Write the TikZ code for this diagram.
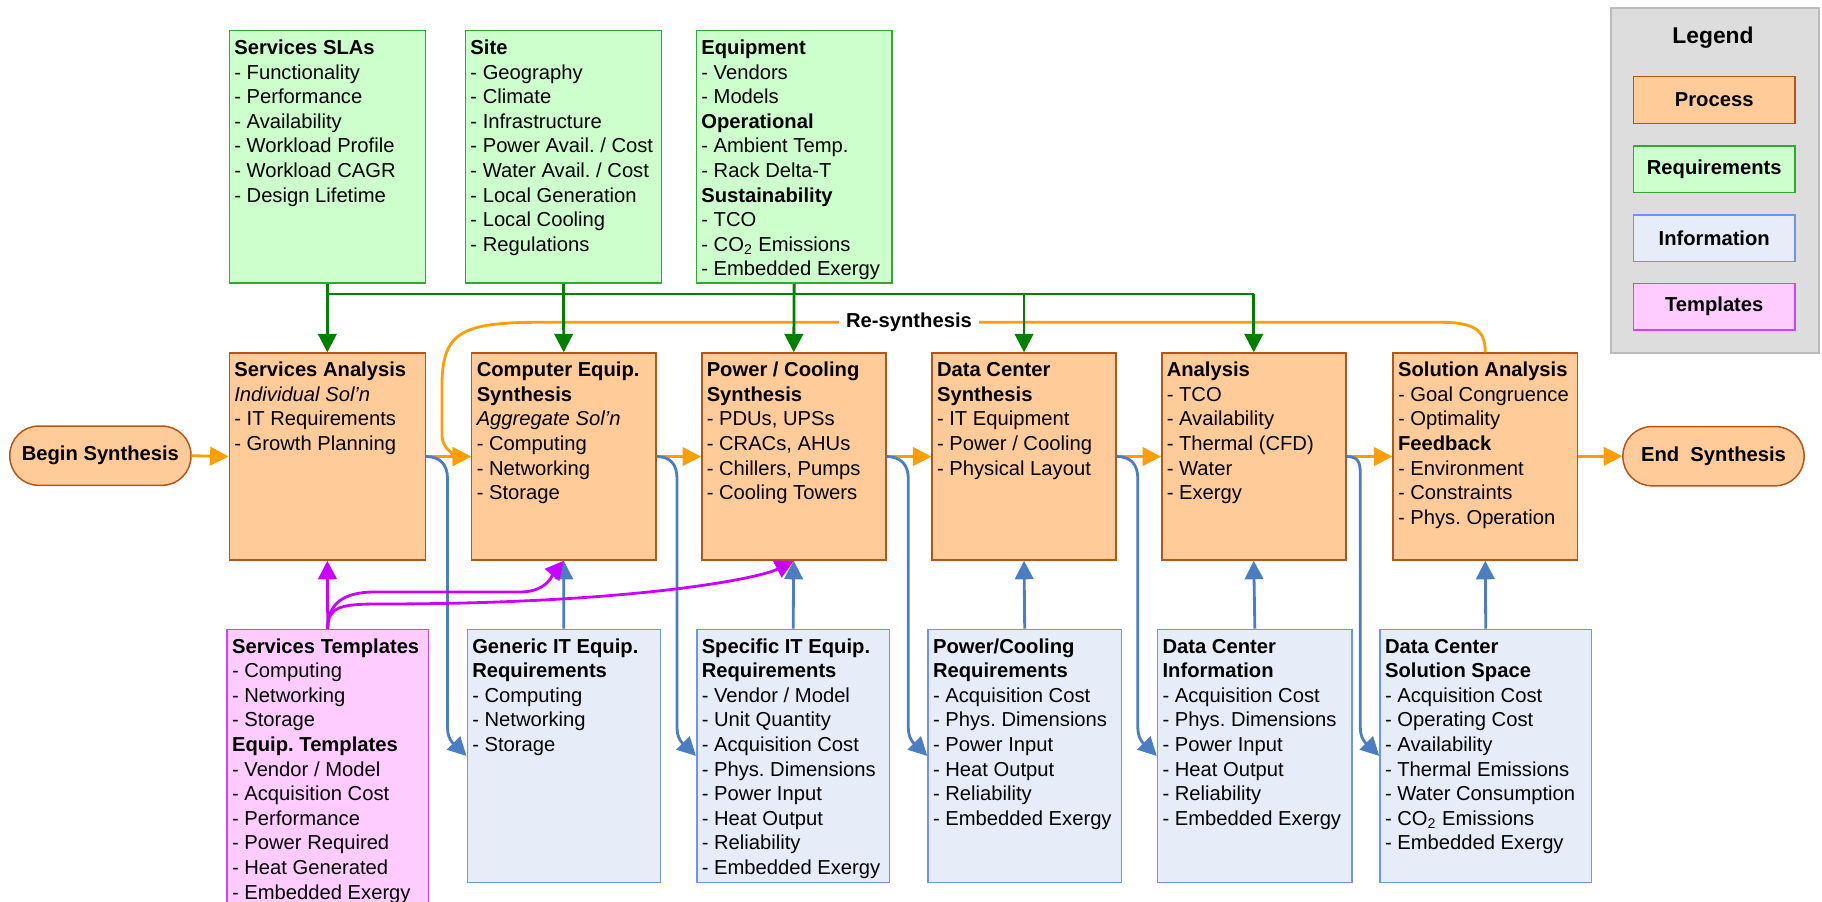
\documentclass[tikz,border=0pt]{standalone}
\usepackage{fontspec}
\setmainfont{Liberation Sans}
\usetikzlibrary{arrows.meta,calc}
\frenchspacing

\definecolor{procfill}{HTML}{FFCC99}
\definecolor{procline}{HTML}{B4561C}
\definecolor{reqfill}{HTML}{CCFFCC}
\definecolor{reqline}{HTML}{33A633}
\definecolor{infofill}{HTML}{E6EDF8}
\definecolor{infoline}{HTML}{6F93EE}
\definecolor{tmplfill}{HTML}{FFCCFF}
\definecolor{tmplline}{HTML}{CC44FF}
\definecolor{flowcol}{HTML}{FF9E00}
\definecolor{reqcol}{HTML}{008000}
\definecolor{infocol}{HTML}{4A7DC4}
\definecolor{tmplcol}{HTML}{CC00FF}
\definecolor{legfill}{HTML}{DDDDDD}
\definecolor{legline}{HTML}{BBBBBB}

\newdimen\pxu \pxu=0.02cm
\newcommand{\boxlines}[3]{\parbox[c][#2\pxu][t]{#1\pxu}{\raggedright\strut #3}}

\tikzset{
  txtbox/.style={anchor=north west, inner xsep=0.1cm, inner ysep=0.13cm, line width=0.85pt, font=\fontsize{11.5}{14}\selectfont},
  procbox/.style={txtbox, draw=procline, fill=procfill},
  reqbox/.style={txtbox, draw=reqline, fill=reqfill},
  infobox/.style={txtbox, draw=infoline, fill=infofill},
  tmplbox/.style={txtbox, draw=tmplline, fill=tmplfill},
  terminal/.style={draw=procline, fill=procfill, line width=0.85pt, rounded corners=0.58cm, minimum width=3.624cm, minimum height=1.186cm, font=\bfseries\fontsize{11.5}{14}\selectfont},
  legitem/.style={line width=0.85pt, minimum width=3.234cm, minimum height=0.934cm, font=\bfseries\fontsize{11.5}{14}\selectfont},
  tip/.style={-{Triangle[length=0.37cm,width=0.37cm]}},
  flow/.style={draw=flowcol, line width=1.6pt, tip},
  reqline/.style={draw=reqcol, line width=1.6pt},
  reqlink/.style={reqline, tip},
  infolink/.style={draw=infocol, line width=1.6pt, tip},
  tmpllink/.style={draw=tmplcol, line width=1.6pt, tip}
}

\begin{document}
\begin{tikzpicture}[x=0.02cm, y=-0.02cm]
			%%%%% START %%%%%
			\useasboundingbox (0,0) rectangle (1822,902);
			
			% requirements
			\node[reqbox] (sla) at (228.6,30) {\boxlines{186}{239.5}{\textbf{Services SLAs}\\- Functionality\\- Performance\\- Availability\\- Workload Profile\\- Workload CAGR\\- Design Lifetime}};
			\node[reqbox] (site) at (464.7,30) {\boxlines{186}{239.5}{\textbf{Site}\\- Geography\\- Climate\\- Infrastructure\\- Power Avail. / Cost\\- Water Avail. / Cost\\- Local Generation\\- Local Cooling\\- Regulations}};
			\node[reqbox] (equip) at (695.6,30) {\boxlines{185.6}{239.5}{\textbf{Equipment}\\- Vendors\\- Models\\\textbf{Operational}\\- Ambient Temp.\\- Rack Delta-T\\\textbf{Sustainability}\\- TCO\\- CO\textsubscript{2} Emissions\\- Embedded Exergy}};
			
			% process
			\node[terminal] (begin) at (100.4,455.7) {Begin Synthesis};
			\node[procbox] (sa) at (228.6,352.3) {\boxlines{186}{194}{\textbf{Services Analysis}\\\textit{Individual Sol’n}\\- IT Requirements\\- Growth Planning}};
			\node[procbox] (ces) at (471,352.3) {\boxlines{174}{194}{\textbf{Computer Equip.}\\\textbf{Synthesis}\\\textit{Aggregate Sol’n}\\- Computing\\- Networking\\- Storage}};
			\node[procbox] (pcs) at (701,352.3) {\boxlines{174}{194}{\textbf{Power / Cooling}\\\textbf{Synthesis}\\- PDUs, UPSs\\- CRACs, AHUs\\- Chillers, Pumps\\- Cooling Towers}};
			\node[procbox] (dcs) at (931.3,352.3) {\boxlines{174}{194}{\textbf{Data Center}\\\textbf{Synthesis}\\- IT Equipment\\- Power / Cooling\\- Physical Layout}};
			\node[procbox] (an) at (1161,352.3) {\boxlines{174}{194}{\textbf{Analysis}\\- TCO\\- Availability\\- Thermal (CFD)\\- Water\\- Exergy}};
			\node[procbox] (sol) at (1392.3,352.3) {\boxlines{174.4}{194}{\textbf{Solution Analysis}\\- Goal Congruence\\- Optimality\\\textbf{Feedback}\\- Environment\\- Constraints\\- Phys. Operation}};
			\node[terminal] (end) at (1713.5,456.2) {End\ \ Synthesis};
			
			% information
			\node[tmplbox] (tmpl) at (226.3,628.7) {\boxlines{191.4}{287}{\textbf{Services Templates}\\- Computing\\- Networking\\- Storage\\\textbf{Equip. Templates}\\- Vendor / Model\\- Acquisition Cost\\- Performance\\- Power Required\\- Heat Generated\\- Embedded Exergy}};
			\node[infobox] (gen) at (466.5,628.7) {\boxlines{183}{240}{\textbf{Generic IT Equip.}\\\textbf{Requirements}\\- Computing\\- Networking\\- Storage}};
			\node[infobox] (spec) at (696,628.7) {\boxlines{182.8}{240}{\textbf{Specific IT Equip.}\\\textbf{Requirements}\\- Vendor / Model\\- Unit Quantity\\- Acquisition Cost\\- Phys. Dimensions\\- Power Input\\- Heat Output\\- Reliability\\- Embedded Exergy}};
			\node[infobox] (pcr) at (927.3,628.7) {\boxlines{183.3}{240}{\textbf{Power/Cooling}\\\textbf{Requirements}\\- Acquisition Cost\\- Phys. Dimensions\\- Power Input\\- Heat Output\\- Reliability\\- Embedded Exergy}};
			\node[infobox] (dci) at (1156.8,628.7) {\boxlines{184.6}{240}{\textbf{Data Center}\\\textbf{Information}\\- Acquisition Cost\\- Phys. Dimensions\\- Power Input\\- Heat Output\\- Reliability\\- Embedded Exergy}};
			\node[infobox] (dcss) at (1379.3,628.7) {\boxlines{201.4}{240}{\textbf{Data Center}\\\textbf{Solution Space}\\- Acquisition Cost\\- Operating Cost\\- Availability\\- Thermal Emissions\\- Water Consumption\\- CO\textsubscript{2} Emissions\\- Embedded Exergy}};
			
			% legend
			\node[draw=legline, fill=legfill, line width=1.2pt, anchor=north west, minimum width=4.166cm, minimum height=6.912cm] (legend) at (1610,6.7) {};
			\node[font=\bfseries\fontsize{13}{15}\selectfont, anchor=base] (legtitle) at (1713,43.3) {Legend};
			\node[legitem, draw=procline, fill=procfill] (legproc) at (1714.2,100) {Process};
			\node[legitem, draw=reqline, fill=reqfill] (legreq) at (1714.2,169.3) {Requirements};
			\node[legitem, draw=infoline, fill=infofill] (leginfo) at (1714.2,238.3) {Information};
			\node[legitem, draw=tmplline, fill=tmplfill] (legtmpl) at (1714.2,306.7) {Templates};
			
			% process flow
			\draw[flow] (begin.east) -- (sa.west);
			\draw[flow] (sa.east) -- (ces.west);
			\draw[flow] (ces.east) -- (pcs.west);
			\draw[flow] (pcs.east) -- (dcs.west);
			\draw[flow] (dcs.east) -- (an.west);
			\draw[flow] (an.east) -- (sol.west);
			\draw[flow] (sol.east) -- (end.west);
			
			\draw[flow] (sol.north) .. controls +(0,-22) and +(35,0) .. (1440,322.3) -- (540,322.3) .. controls (462,322.3) and (442,332) .. (442,385) -- (442,436) .. controls +(0,14) and +(-12,0) .. (ces.west);
			\node[fill=white, inner xsep=0.14cm, inner ysep=0.04cm, font=\bfseries\fontsize{11.5}{14}\selectfont] (resyn) at (909,322.3) {Re-synthesis};
			
			% requirements feed
			\coordinate (bus) at (0,294);
			\draw[reqline] (sla.south |- bus) -- (an.north |- bus);
			\draw[reqlink] (sla.south) -- (sa.north);
			\draw[reqlink] (site.south) -- (ces.north);
			\draw[reqlink] (equip.south) -- (pcs.north);
			\draw[reqlink] (dcs.north |- bus) -- (dcs.north);
			\draw[reqlink] (an.north |- bus) -- (an.north);
			
			% information feed
			\draw[infolink] (gen.north) -- (ces.south);
			\draw[infolink] (spec.north) -- (pcs.south);
			\draw[infolink] (pcr.north) -- (dcs.south);
			\draw[infolink] (dci.north) -- (an.south);
			\draw[infolink] (dcss.north) -- (sol.south);
			
			\draw[infolink] (sa.east) .. controls +(14,0) and +(0,-14) .. ($(sa.east -| gen.west)+(-19,22)$) -- ($(gen.west)+(-19,-28)$) .. controls +(0,14) and +(-9,-9) .. (gen.west);
			\draw[infolink] (ces.east) .. controls +(14,0) and +(0,-14) .. ($(ces.east -| spec.west)+(-19,22)$) -- ($(spec.west)+(-19,-28)$) .. controls +(0,14) and +(-9,-9) .. (spec.west);
			\draw[infolink] (pcs.east) .. controls +(14,0) and +(0,-14) .. ($(pcs.east -| pcr.west)+(-19,22)$) -- ($(pcr.west)+(-19,-28)$) .. controls +(0,14) and +(-9,-9) .. (pcr.west);
			\draw[infolink] (dcs.east) .. controls +(14,0) and +(0,-14) .. ($(dcs.east -| dci.west)+(-19,22)$) -- ($(dci.west)+(-19,-28)$) .. controls +(0,14) and +(-9,-9) .. (dci.west);
			\draw[infolink] (an.east) .. controls +(14,0) and +(0,-14) .. ($(an.east -| dcss.west)+(-19,22)$) -- ($(dcss.west)+(-19,-28)$) .. controls +(0,14) and +(-9,-9) .. (dcss.west);
			
			% templates feed
			\draw[tmpllink] (tmpl.north) -- (sa.south);
			\draw[tmpllink] (tmpl.north) .. controls +(0,-25) and +(-32,0) .. (375,592) -- (520,592) .. controls +(28,0) and +(-10,12) .. (ces.south);
			\draw[tmpllink] (tmpl.north) .. controls +(0,-22) and +(-40,0) .. (380,604) .. controls +(250,0) and +(-35,18) .. (pcs.south);
			
			%%%%% END %%%%%
\end{tikzpicture}
\end{document}
